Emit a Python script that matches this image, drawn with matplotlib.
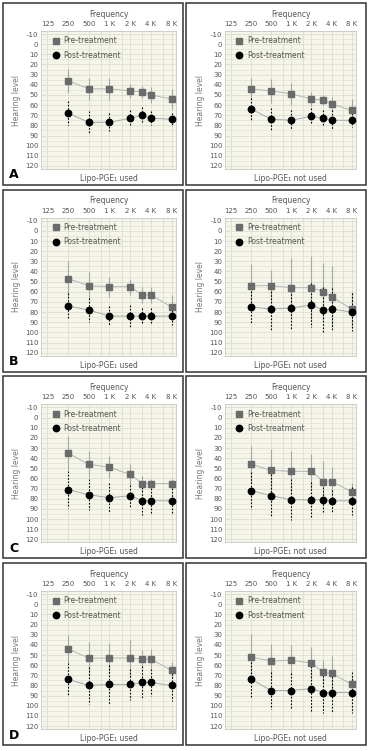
import matplotlib
matplotlib.use("Agg")
import matplotlib.pyplot as plt
from matplotlib.lines import Line2D
from matplotlib.patches import Rectangle

# ==========================
# DATA
# ==========================

freqs = [250, 500, 1000, 2000, 3000, 4000, 8000]
tick_freqs = [125, 250, 500, 1000, 2000, 4000, 8000]
tick_labels = ["125", "250", "500", "1 K", "2 K", "4 K", "8 K"]
grid_freqs = [125, 250, 500, 750, 1000, 1500, 2000, 3000, 4000, 6000, 8000]
level_ticks = list(range(-10, 121, 10))

panel_letters = ["A", "B", "C", "D"]
group_labels = ["Lipo-PGE\u2081 used", "Lipo-PGE\u2081 not used"]

pre_A1 = [36, 44, 44, 46, 47, 50, 54]
pre_sd_A1 = [12, 11, 11, 7, 6, 8, 10]
post_A1 = [68, 77, 77, 73, 70, 73, 74]
post_sd_A1 = [12, 11, 9, 8, 8, 7, 6]

pre_A2 = [44, 46, 49, 54, 55, 59, 65]
pre_sd_A2 = [11, 12, 11, 7, 5, 7, 11]
post_A2 = [64, 74, 75, 71, 73, 75, 75]
post_sd_A2 = [11, 11, 10, 8, 8, 10, 7]

pre_B1 = [47, 54, 55, 55, 63, 63, 75]
pre_sd_B1 = [17, 13, 10, 8, 8, 8, 12]
post_B1 = [74, 78, 84, 84, 84, 84, 84]
post_sd_B1 = [13, 12, 10, 11, 8, 8, 9]

pre_B2 = [54, 54, 56, 56, 60, 65, 77]
pre_sd_B2 = [21, 15, 29, 31, 28, 30, 17]
post_B2 = [75, 77, 76, 73, 78, 77, 80]
post_sd_B2 = [16, 21, 21, 22, 23, 21, 19]

pre_C1 = [35, 46, 49, 56, 65, 65, 65]
pre_sd_C1 = [17, 13, 11, 10, 7, 4, 4]
post_C1 = [71, 76, 79, 77, 82, 82, 82]
post_sd_C1 = [18, 15, 15, 11, 14, 13, 13]

pre_C2 = [46, 52, 53, 53, 63, 63, 73]
pre_sd_C2 = [18, 21, 20, 17, 20, 14, 9]
post_C2 = [72, 77, 81, 81, 81, 82, 82]
post_sd_C2 = [18, 21, 20, 18, 13, 11, 14]

pre_D1 = [44, 53, 53, 53, 54, 54, 65]
pre_sd_D1 = [14, 16, 15, 18, 9, 10, 8]
post_D1 = [74, 80, 79, 79, 77, 77, 80]
post_sd_D1 = [16, 18, 19, 15, 16, 13, 15]

pre_D2 = [52, 56, 55, 58, 67, 68, 79]
pre_sd_D2 = [23, 17, 15, 16, 12, 17, 8]
post_D2 = [74, 85, 85, 83, 87, 87, 87]
post_sd_D2 = [17, 18, 17, 22, 20, 19, 20]

panels = [
    [(pre_A1, pre_sd_A1, post_A1, post_sd_A1), (pre_A2, pre_sd_A2, post_A2, post_sd_A2)],
    [(pre_B1, pre_sd_B1, post_B1, post_sd_B1), (pre_B2, pre_sd_B2, post_B2, post_sd_B2)],
    [(pre_C1, pre_sd_C1, post_C1, post_sd_C1), (pre_C2, pre_sd_C2, post_C2, post_sd_C2)],
    [(pre_D1, pre_sd_D1, post_D1, post_sd_D1), (pre_D2, pre_sd_D2, post_D2, post_sd_D2)],
]

# ==========================
# LAYOUT (pixels)
# ==========================

W, H = 369, 751
plt.rcParams["font.family"] = ["DejaVu Sans"]
plt.rcParams["axes.unicode_minus"] = False

PANEL_LEFT = [3, 186]
PANEL_W = 180
PANEL_H = 182
ROW_STEP = 186.7
AX_OFF_L = [38, 39]
AX_W = [135, 131]
AX_OFF_T = 28
AX_H = 138
MS = 4.6

BG = "#f5f5e9"
GRID = "#dcdcd0"
TXT = "#555555"
PRE_C = "#6b6b6b"
PRE_LINE = "#b4b4b4"
POST_LINE = "#a8a8a8"


def fx(px):
    return px / W


def fy(py):
    return 1 - py / H


fig = plt.figure(figsize=(W / 100, H / 100), dpi=100)

for r in range(4):
    top = 3 + r * ROW_STEP
    for c in range(2):
        left = PANEL_LEFT[c]
        fig.add_artist(Rectangle((fx(left), fy(top + PANEL_H)), fx(PANEL_W), PANEL_H / H,
                                 transform=fig.transFigure, fill=False,
                                 edgecolor="#333333", linewidth=1.1))

        ax_l = left + AX_OFF_L[c]
        ax_t = top + AX_OFF_T
        ax = fig.add_axes([fx(ax_l), fy(ax_t + AX_H), fx(AX_W[c]), AX_H / H])
        ax.set_facecolor(BG)
        ax.set_xscale("log")
        ax.set_xlim(101, 9300)
        ax.set_ylim(123, -13)

        for g in grid_freqs:
            ax.axvline(g, color=GRID, lw=0.6, zorder=0)
        for lv in range(-10, 121, 5):
            ax.axhline(lv, color=GRID, lw=0.6 if lv % 10 == 0 else 0.4, zorder=0)

        pre, pre_sd, post, post_sd = panels[r][c]

        ax.errorbar(freqs, pre, yerr=pre_sd, fmt="none", ecolor="#a6a6a6",
                    elinewidth=0.8, capsize=0, zorder=2)
        eb = ax.errorbar(freqs, post, yerr=post_sd, fmt="none", ecolor="black",
                         elinewidth=0.8, capsize=0, zorder=3)
        for lc in eb[2]:
            lc.set_linestyle((0, (1.5, 1.5)))

        ax.plot(freqs, pre, color=PRE_LINE, lw=0.7, zorder=2)
        ax.plot(freqs, pre, "s", color=PRE_C, ms=MS, mec=PRE_C, zorder=4, clip_on=False)
        ax.plot(freqs, post, color=POST_LINE, lw=0.7, zorder=3)
        ax.plot(freqs, post, "o", color="black", ms=MS, zorder=5, clip_on=False)

        ax.xaxis.tick_top()
        ax.set_xticks(tick_freqs)
        ax.set_xticklabels(tick_labels)
        ax.xaxis.set_minor_locator(matplotlib.ticker.NullLocator())
        ax.set_yticks(level_ticks)
        ax.tick_params(axis="both", length=0, labelsize=5, colors=TXT, pad=2)
        ax.tick_params(axis="x", pad=3)
        for s in ax.spines.values():
            s.set_color("#c8c8c0")
            s.set_linewidth(0.6)

        ax.set_ylabel("Hearing level", fontsize=5.5, color="#777777", labelpad=3)
        ax.text(0.5, 1.09, "Frequency", transform=ax.transAxes, ha="center",
                va="bottom", fontsize=5.5, color=TXT)
        ax.text(0.5, -0.035, group_labels[c], transform=ax.transAxes, ha="center",
                va="top", fontsize=5.5, color=TXT)

        handles = [
            Line2D([], [], marker="s", ls="none", color=PRE_C, ms=MS),
            Line2D([], [], marker="o", ls="none", color="black", ms=MS),
        ]
        ax.legend(handles, ["Pre-treatment", "Post-treatment"], loc="upper left",
                  bbox_to_anchor=(0.04, 1.0), frameon=False, fontsize=5.5,
                  handlelength=1.0, handletextpad=0.5, labelspacing=0.7,
                  borderaxespad=0.3, labelcolor=TXT)

        if c == 0:
            fig.text(fx(left + 6), fy(top + 172), panel_letters[r], fontsize=9,
                     fontweight="bold", va="center", ha="left")

fig.savefig("out.png", dpi=100)
